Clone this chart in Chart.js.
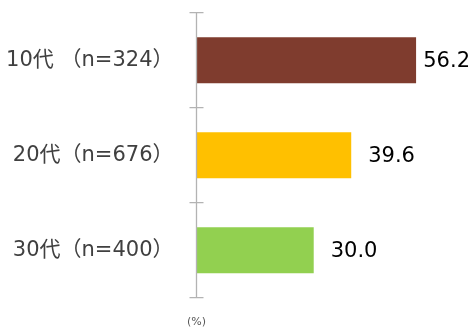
<!DOCTYPE html>
<html>
<head>
<meta charset="utf-8">
<script src="https://cdn.jsdelivr.net/npm/chart.js@4/dist/chart.umd.min.js"></script>
<style>
  html, body { margin: 0; padding: 0; background: #fff; }
  #wrap { width: 471px; height: 328px; position: relative; }
</style>
</head>
<body>
<div id="wrap"><canvas id="ageChart"></canvas></div>
<script>
// chart data
const categories = ['10代 （n=324）', '20代（n=676）', '30代（n=400）'];
const values = [56.2, 39.6, 30.0];
const barColors = ['#7f3c2e', '#ffc000', '#92d050'];
const unitLabel = '(%)';

const fontFamily = '"DejaVu Sans", "Noto Sans CJK JP", sans-serif';

// draws the vertical axis line with tick marks between the bars, and the (%) note
const axisPlugin = {
    id: 'axisLine',
    afterDraw(chart) {
        const ctx = chart.ctx;
        const y = chart.scales.y;
        const x0 = chart.chartArea.left;
        ctx.save();
        ctx.strokeStyle = '#b3b3b3';
        ctx.lineWidth = 1.3;
        ctx.beginPath();
        ctx.moveTo(x0, chart.chartArea.top);
        ctx.lineTo(x0, chart.chartArea.bottom);
        // boundaries between categories
        for (let i = 0; i <= categories.length; i++) {
            const py = y.getPixelForValue(i - 0.5);
            ctx.moveTo(x0 - 7, py);
            ctx.lineTo(x0 + 7, py);
        }
        ctx.stroke();

        ctx.fillStyle = '#595959';
        ctx.font = '11px ' + fontFamily;
        ctx.textAlign = 'center';
        ctx.textBaseline = 'middle';
        ctx.fillText(unitLabel, x0, chart.chartArea.bottom + 24);
        ctx.restore();
    }
};

// value labels to the right of each bar
const valuePlugin = {
    id: 'valueLabels',
    afterDatasetsDraw(chart) {
        const ctx = chart.ctx;
        const meta = chart.getDatasetMeta(0);
        ctx.save();
        ctx.font = '21px ' + fontFamily;
        ctx.fillStyle = '#000';
        ctx.textAlign = 'left';
        ctx.textBaseline = 'middle';
        meta.data.forEach((bar, i) => {
            const txt = values[i].toFixed(1);
            const w = ctx.measureText(txt).width;
            // keep the label inside the canvas if the bar is long
            const tx = Math.min(bar.x + 17, chart.width - 1 - w);
            ctx.fillText(txt, tx, bar.y + 1);
        });
        ctx.restore();
    }
};

new Chart(document.getElementById('ageChart'), {
    type: 'bar',
    data: {
        labels: categories,
        datasets: [{
            data: values,
            backgroundColor: barColors,
            borderWidth: 0,
            categoryPercentage: 1,
            barPercentage: 0.484
        }]
    },
    options: {
        indexAxis: 'y',
        responsive: true,
        maintainAspectRatio: false,
        animation: false,
        layout: { padding: { top: 12.7, bottom: 30.3, right: 1, left: 0 } },
        plugins: {
            legend: { display: false },
            tooltip: { enabled: false }
        },
        scales: {
            x: {
                display: false,
                min: 0,
                max: 70
            },
            y: {
                grid: { display: false },
                border: { display: false },
                ticks: {
                    color: '#404040',
                    padding: 15,
                    font: { size: 21, family: fontFamily }
                },
                afterFit(scale) {
                    // fixed axis position, no extra vertical padding from the labels
                    scale.width = 196.5;
                    scale.paddingTop = 0;
                    scale.paddingBottom = 0;
                }
            }
        }
    },
    plugins: [axisPlugin, valuePlugin]
});
</script>
</body>
</html>
